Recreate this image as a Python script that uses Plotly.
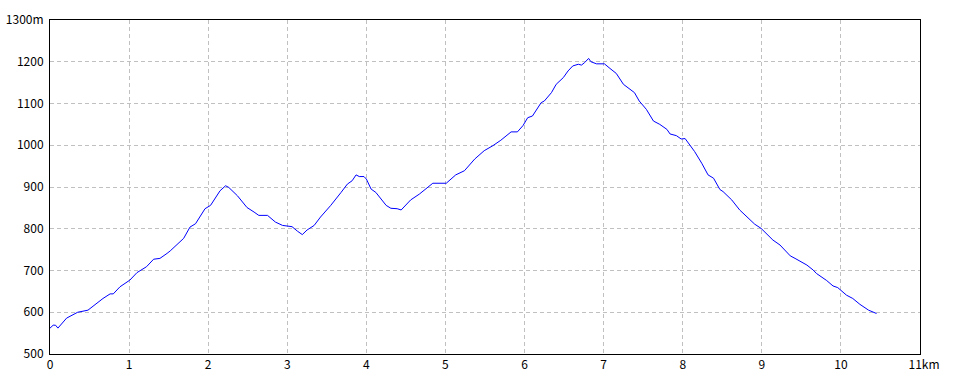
import plotly.graph_objects as go

dist_km = [0.00, 0.04, 0.07, 0.10, 0.21, 0.35, 0.48, 0.57, 0.67, 0.76, 0.80, 0.885, 0.95, 1.01,
           1.10, 1.16, 1.22, 1.31, 1.39, 1.48, 1.52, 1.69, 1.77, 1.84, 1.96, 2.03, 2.15, 2.22,
           2.26, 2.37, 2.49, 2.58, 2.64, 2.75, 2.85, 2.94, 3.06, 3.13, 3.19, 3.25, 3.34, 3.42,
           3.55, 3.68, 3.76, 3.82, 3.87, 3.91, 3.97, 4.00, 4.06, 4.12, 4.18, 4.25, 4.31, 4.39,
           4.44, 4.56, 4.67, 4.77, 4.84, 5.01, 5.13, 5.24, 5.30, 5.37, 5.49, 5.60, 5.70, 5.83,
           5.91, 5.98, 6.04, 6.10, 6.21, 6.25, 6.34, 6.40, 6.49, 6.55, 6.61, 6.68, 6.72, 6.76,
           6.81, 6.84, 6.91, 7.01, 7.08, 7.16, 7.25, 7.33, 7.39, 7.45, 7.54, 7.63, 7.71, 7.80,
           7.84, 7.92, 7.98, 8.03, 8.15, 8.24, 8.32, 8.39, 8.47, 8.51, 8.62, 8.72, 8.85, 8.91,
           8.99, 9.14, 9.23, 9.36, 9.42, 9.57, 9.65, 9.69, 9.82, 9.90, 9.96, 10.07, 10.15, 10.24,
           10.35, 10.43, 10.45]
elev_m = [562, 569, 569, 562, 586, 600, 605, 619, 633, 644, 644, 661, 669, 677,
          695, 703, 709, 727, 729, 741, 747, 777, 804, 812, 848, 856, 891, 903,
          899, 879, 851, 840, 832, 832, 816, 808, 805, 794, 786, 797, 808, 828,
          856, 887, 907, 915, 929, 925, 925, 919, 895, 887, 872, 856, 849, 848,
          845, 869, 883, 897, 909, 909, 929, 939, 953, 967, 987, 999, 1012, 1032,
          1032, 1047, 1066, 1070, 1102, 1106, 1126, 1146, 1162, 1178, 1190, 1194, 1192, 1198,
          1208, 1200, 1195, 1195, 1184, 1172, 1146, 1134, 1126, 1106, 1086, 1058, 1050, 1038,
          1027, 1023, 1015, 1016, 985, 957, 929, 921, 894, 889, 869, 845, 821, 811,
          801, 773, 761, 735, 729, 713, 701, 693, 676, 663, 659, 641, 633, 619,
          605, 597, 597]

x_tickvals = [0, 1, 2, 3, 4, 5, 6, 7, 8, 9, 10, 11]
x_ticktext = ["0", "1", "2", "3", "4", "5", "6", "7", "8", "9", "10", "\u00a0\u00a0\u00a011km"]
y_tickvals = [500, 600, 700, 800, 900, 1000, 1100, 1200, 1300]
y_ticktext = ["500", "600", "700", "800", "900", "1000", "1100", "1200", "1300m"]

fig = go.Figure()
fig.add_trace(go.Scatter(x=dist_km, y=elev_m, mode="lines",
                         line=dict(color="#0000ff", width=1), hoverinfo="skip"))

axis_common = dict(showline=True, linecolor="black", linewidth=1, mirror=True,
                   showgrid=True, gridcolor="#c0c0c0", griddash="4px,3px", gridwidth=1,
                   zeroline=False, ticks="", automargin=False,
                   tickfont=dict(family="Noto Sans CJK JP", size=12, color="black"))

fig.update_xaxes(range=[0, 11], tickmode="array", tickvals=x_tickvals, ticktext=x_ticktext, **axis_common)
fig.update_yaxes(range=[500, 1300], tickmode="array", tickvals=y_tickvals, ticktext=y_ticktext,
                 ticklabelstandoff=3, **axis_common)

fig.update_layout(width=960, height=384, margin=dict(l=50, r=40, t=20, b=30),
                  paper_bgcolor="white", plot_bgcolor="white", showlegend=False)

fig.write_html("out.html")
